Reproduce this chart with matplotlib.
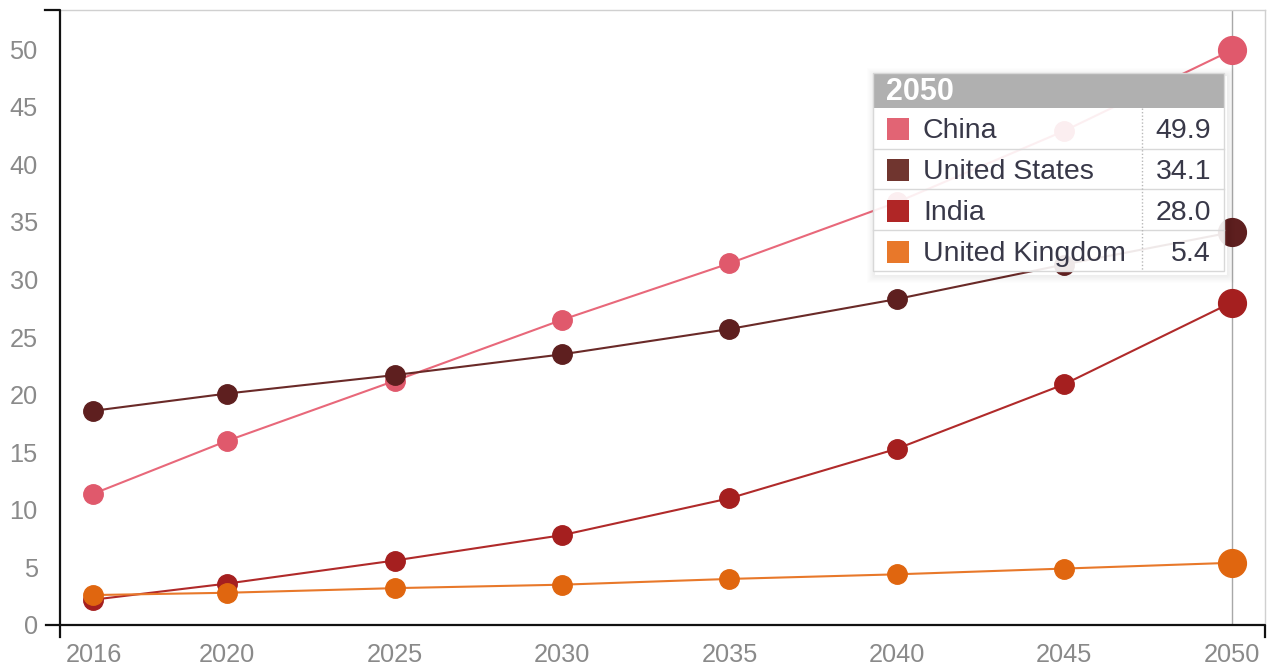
import matplotlib
matplotlib.use('Agg')
import matplotlib.pyplot as plt
from matplotlib.lines import Line2D
from matplotlib.patches import Rectangle

plt.rcParams['font.family'] = ['Liberation Sans', 'DejaVu Sans']

# Projected values per country (2016 .. 2050)
years = [2016, 2020, 2025, 2030, 2035, 2040, 2045, 2050]
china = [11.4, 16.0, 21.2, 26.5, 31.4, 36.7, 42.9, 49.9]
united_states = [18.6, 20.1, 21.7, 23.5, 25.7, 28.3, 31.3, 34.1]
india = [2.2, 3.6, 5.6, 7.8, 11.0, 15.3, 20.9, 28.0]
united_kingdom = [2.6, 2.8, 3.2, 3.5, 4.0, 4.4, 4.9, 5.4]

series_names = ['China', 'United States', 'India', 'United Kingdom']
series_values = [china, united_states, india, united_kingdom]
line_colors = ['#e8687a', '#6a2a28', '#b02a2a', '#e8782a']
marker_colors = ['#e0596c', '#5e1f1f', '#a51f1f', '#e0660f']
swatch_colors = ['#e26474', '#70352f', '#b02626', '#e8782a']

y_ticks = list(range(0, 51, 5))
hover_year = 2050

W, H = 1273, 666
fig = plt.figure(figsize=(W / 100, H / 100), dpi=100)


def px(x, y):
    # pixel position (from top-left) -> figure fraction
    return x / W, 1 - y / H


ax_l, ax_t, ax_r, ax_b = 60, 10, 1265, 625
ax = fig.add_axes([ax_l / W, 1 - ax_b / H, (ax_r - ax_l) / W, (ax_b - ax_t) / H])
ax.set_xlim(2015, 2051)
ax.set_ylim(0, 53.4)

# hover guide line
ax.axvline(hover_year, color='#a8a8a8', lw=1, zorder=1)

hi = years.index(hover_year)
for name, vals, lc, mc in zip(series_names, series_values, line_colors, marker_colors):
    ax.plot(years, vals, color=lc, lw=1.5, zorder=2)
    ax.plot(years[:hi] + years[hi + 1:], vals[:hi] + vals[hi + 1:], 'o', ms=14,
            color=mc, mec=mc, zorder=3)
    ax.plot([years[hi]], [vals[hi]], 'o', ms=20, color=mc, mec=mc, zorder=3)

ax.set_yticks(y_ticks)
ax.set_xticks(years)
ax.tick_params(axis='both', length=0, labelsize=18.3, colors='#8a8a8a')
ax.tick_params(axis='y', pad=16)
ax.tick_params(axis='x', pad=13)
for s in ['left', 'bottom']:
    ax.spines[s].set_visible(False)
for s in ['top', 'right']:
    ax.spines[s].set_color('#d0d0d0')
    ax.spines[s].set_linewidth(1)

# axis domain paths with outer ticks
fig.add_artist(Line2D(*zip(px(45, ax_t), px(ax_l, ax_t), px(ax_l, 637)),
                      color='#111111', lw=1.6, transform=fig.transFigure))
fig.add_artist(Line2D(*zip(px(46, ax_b), px(ax_r, ax_b), px(ax_r, 637)),
                      color='#111111', lw=1.6, transform=fig.transFigure))

# tooltip
bx0, by0, bx1, by1 = 873, 73, 1224, 271
head_b = 108
# soft shadow drawn as rings outside the box, shifted down/right
for i in range(1, 9):
    x0, y0 = px(bx0 - i + 2, by1 + i + 3)
    fig.add_artist(Rectangle((x0, y0), (bx1 - bx0 + 2 * i) / W, (by1 - by0 + 2 * i) / H,
                             transform=fig.transFigure, fill=False, edgecolor='black',
                             alpha=0.07 * (1 - i / 9), lw=0.8, zorder=10))
x0, y0 = px(bx0, by1)
fig.add_artist(Rectangle((x0, y0), (bx1 - bx0) / W, (by1 - by0) / H,
                         transform=fig.transFigure, facecolor='white', alpha=0.9,
                         edgecolor='none', lw=0, zorder=11))
fig.add_artist(Rectangle((x0, y0), (bx1 - bx0) / W, (by1 - by0) / H,
                         transform=fig.transFigure, fill=False,
                         edgecolor='#d8d8d8', lw=1, zorder=13))
x0, y0 = px(bx0, head_b)
fig.add_artist(Rectangle((x0, y0), (bx1 - bx0) / W, (head_b - by0) / H,
                         transform=fig.transFigure, facecolor='#b0b0b0', lw=0, zorder=12))
fig.text(*px(886, (by0 + head_b) / 2 + 2), str(hover_year), color='white', fontsize=22,
         fontweight='bold', va='center', ha='left', zorder=13)

row_h = (by1 - head_b) / len(series_names)
sep_x = 1142
for i, (name, vals, sc) in enumerate(zip(series_names, series_values, swatch_colors)):
    top = head_b + i * row_h
    mid = top + row_h / 2
    if i > 0:
        fig.add_artist(Line2D(*zip(px(bx0, top), px(bx1, top)), color='#d8d8d8', lw=1,
                              transform=fig.transFigure, zorder=13))
    sx, sy = px(887, mid + 12)
    fig.add_artist(Rectangle((sx, sy), 22 / W, 22 / H, transform=fig.transFigure,
                             color=sc, lw=0, zorder=13))
    fig.text(*px(923, mid + 3), name, color='#383848', fontsize=20.5, va='center',
             ha='left', zorder=13)
    fig.text(*px(1211, mid + 3), '%.1f' % vals[hi], color='#383848', fontsize=20.5,
             va='center', ha='right', zorder=13)
fig.add_artist(Line2D(*zip(px(sep_x, head_b), px(sep_x, by1)), color='#b8b8b8', lw=1,
                      ls=(0, (1, 1.5)), transform=fig.transFigure, zorder=13))

fig.savefig('out.png', dpi=100)
